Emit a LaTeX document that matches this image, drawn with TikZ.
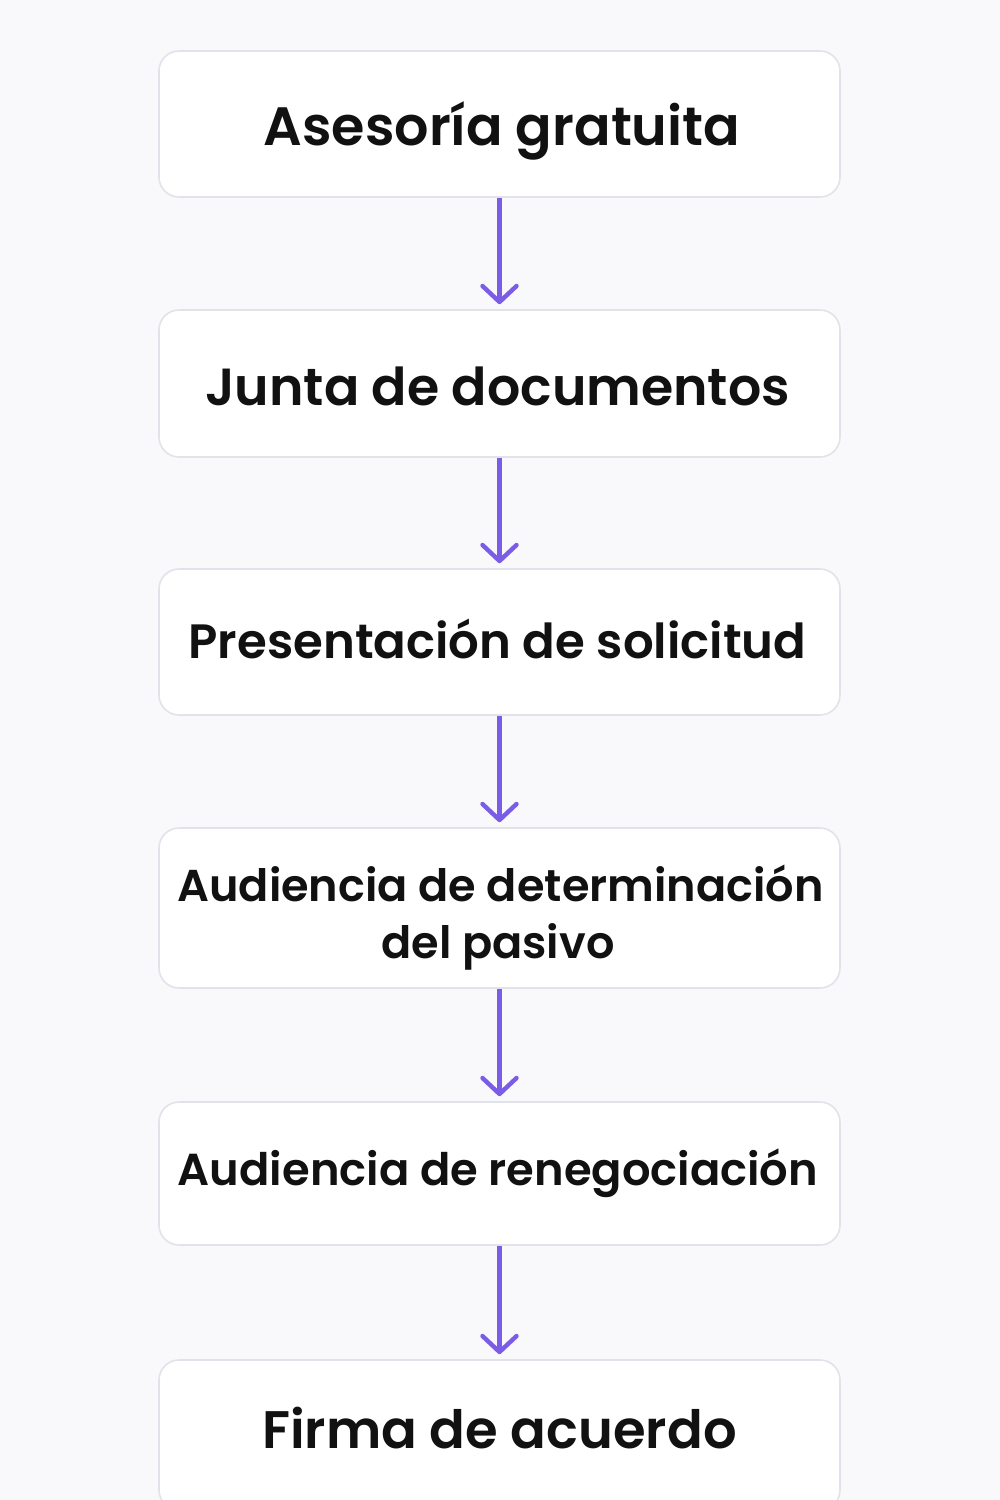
\documentclass[tikz,border=0pt]{standalone}
\usepackage{fontspec}
\setmainfont{Poppins}[UprightFont=* SemiBold]
\usetikzlibrary{arrows.meta}
\definecolor{bg}{HTML}{F9F9FB}
\definecolor{boxline}{HTML}{E2E2EA}
\definecolor{arrowc}{HTML}{7A5CE6}
\definecolor{txt}{HTML}{111111}
\tikzset{
  stepbox/.style={draw=boxline, line width=0.8pt, fill=white, rounded corners=10pt,
    minimum width=340.5pt, inner sep=0pt},
  lbl/.style={anchor=base, inner sep=0pt, text=txt},
  flow/.style={draw=arrowc, line width=2.2pt,
    -{Straight Barb[length=8pt,width=17pt,line width=2.2pt,line cap=round,line join=round]}}
}
\begin{document}
\begin{tikzpicture}[x=0.5pt,y=-0.5pt]
\useasboundingbox (0,0) rectangle (1000,1500);
\fill[bg] (0,0) rectangle (1000,1500);
\node[stepbox, minimum height=73pt] (a) at (499.5,124) {};
\node[stepbox, minimum height=73.5pt] (b) at (499.5,383.5) {};
\node[stepbox, minimum height=73pt] (c) at (499.5,642) {};
\node[stepbox, minimum height=80pt] (d) at (499.5,908) {};
\node[stepbox, minimum height=71.5pt] (e) at (499.5,1173.5) {};
\node[stepbox, minimum height=75pt] (f) at (499.5,1435) {};
\node[lbl, font=\fontsize{27.0}{32}\selectfont] (ta) at (502,145) {Asesoría gratuita};
\node[lbl, font=\fontsize{26.1}{32}\selectfont] (tb) at (497.5,405) {Junta de documentos};
\node[lbl, font=\fontsize{24.1}{30}\selectfont] (tc) at (497.5,658) {Presentación de solicitud};
\node[lbl, font=\fontsize{22.3}{28}\selectfont] (td1) at (500.5,901) {Audiencia de determinación};
\node[lbl, font=\fontsize{22.3}{28}\selectfont] (td2) at (498,958) {del pasivo};
\node[lbl, font=\fontsize{22.4}{28}\selectfont] (te) at (498,1185) {Audiencia de renegociación};
\node[lbl, font=\fontsize{26.4}{32}\selectfont] (tf) at (499.5,1448) {Firma de acuerdo};
\draw[flow] (a.south) -- ([yshift=2.5pt]b.north);
\draw[flow] (b.south) -- ([yshift=2.5pt]c.north);
\draw[flow] (c.south) -- ([yshift=2.5pt]d.north);
\draw[flow] (d.south) -- ([yshift=2.5pt]e.north);
\draw[flow] (e.south) -- ([yshift=2.5pt]f.north);
\end{tikzpicture}
\end{document}
